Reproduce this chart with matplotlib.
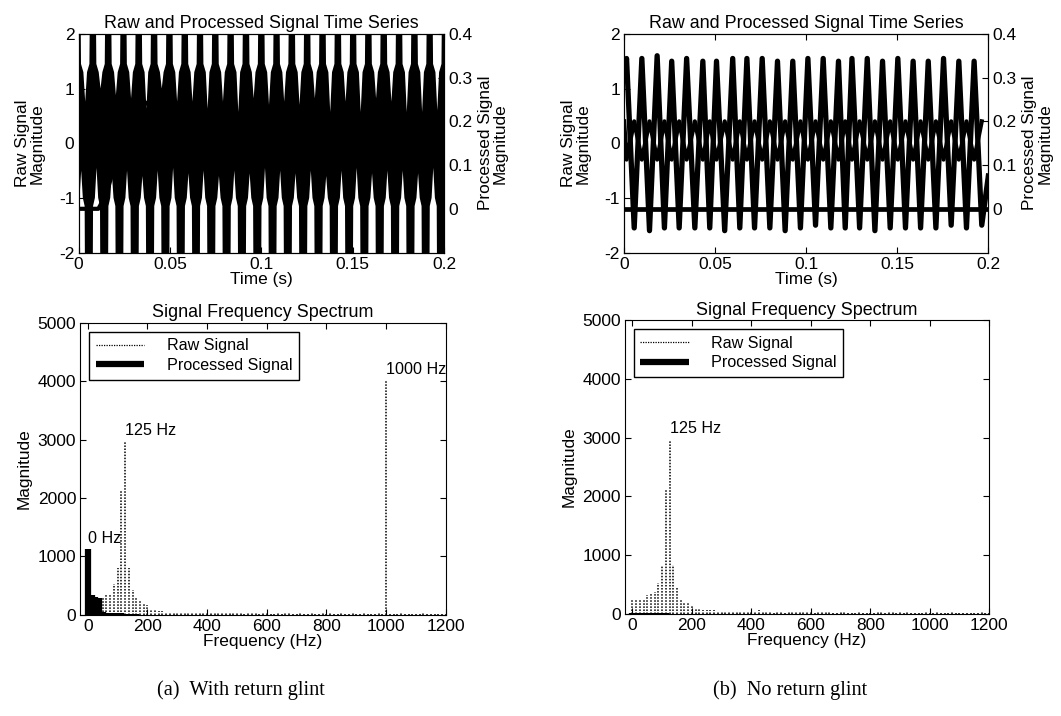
import numpy as np
import matplotlib
matplotlib.use("Agg")
import matplotlib.pyplot as plt
from matplotlib.lines import Line2D

plt.rcParams['font.family'] = ['Liberation Sans', 'DejaVu Sans']
plt.rcParams['font.size'] = 12.5
plt.rcParams['axes.unicode_minus'] = False

# ---- time series, no glint (b): raw zigzag vertices
peak_t = [0.0013, 0.0097, 0.0181, 0.0261, 0.0343, 0.0432, 0.0507, 0.0596, 0.0674, 0.0758,
          0.0842, 0.0926, 0.1009, 0.1093, 0.1177, 0.1251, 0.1335, 0.1419, 0.1503, 0.1587,
          0.1670, 0.1754, 0.1838, 0.1922]
peak_v = [1.55, 1.55, 1.6, 1.5, 1.55, 1.5, 1.5, 1.55, 1.55, 1.55, 1.5, 1.5, 1.55, 1.55,
          1.5, 1.55, 1.55, 1.5, 1.55, 1.5, 1.5, 1.55, 1.5, 1.5]
trough_t = [0.0055, 0.0139, 0.0221, 0.0302, 0.0388, 0.0470, 0.0552, 0.0635, 0.0716, 0.0800,
            0.0884, 0.0968, 0.1051, 0.1135, 0.1214, 0.1293, 0.1377, 0.1461, 0.1545, 0.1628,
            0.1712, 0.1796, 0.1880, 0.1964]
trough_v = [-1.55, -1.6, -1.55, -1.55, -1.55, -1.55, -1.6, -1.55, -1.55, -1.55, -1.6, -1.55,
            -1.5, -1.55, -1.55, -1.55, -1.6, -1.55, -1.55, -1.55, -1.55, -1.5, -1.55, -1.5]
inner_at_peak = -0.3     # inner crossing band levels
inner_at_trough = 0.4
clean_start = 1.2
clean_end = -0.6
proc_clean_t = [0.0, 0.2]
proc_clean_v = [0.0, 0.0]

# ---- time series, with glint (a): envelope of the dense raw signal
top_gap_t = [0.0036, 0.0120, 0.0204, 0.0287, 0.0371, 0.0455, 0.0539, 0.0623, 0.0706, 0.0790,
             0.0874, 0.0958, 0.1042, 0.1125, 0.1209, 0.1293, 0.1377, 0.1461, 0.1544, 0.1628,
             0.1712, 0.1796, 0.1880, 0.1963]
top_gap_tip = [0.76, 1.0, 0.88, 0.82, 0.63, 1.0, 0.76, 0.76, 0.63, 0.76, 0.57, 0.82, 0.7, 0.76,
               0.7, 0.82, 0.57, 0.76, 0.57, 0.82, 0.76, 0.57, 0.57, 0.6]
bot_gap_t = [0.0014, 0.0098, 0.0182, 0.0265, 0.0349, 0.0433, 0.0517, 0.0601, 0.0684, 0.0768,
             0.0852, 0.0936, 0.1020, 0.1103, 0.1187, 0.1271, 0.1355, 0.1439, 0.1522, 0.1606,
             0.1690, 0.1774, 0.1858, 0.1941]
bot_gap_tip = [-0.5, -0.45, -0.55, -0.5, -0.6, -0.5, -0.45, -0.55, -0.5, -0.6, -0.5, -0.55,
               -0.45, -0.5, -0.55, -0.5, -0.6, -0.5, -0.45, -0.55, -0.5, -0.5, -0.55, -0.45]
# gap outline: time offsets and levels (tip level is per gap)
top_gap_dt = [-0.0026, -0.0023, -0.0010, 0.0, 0.0010, 0.0023, 0.0026]
top_gap_lv = [2.6, 1.45, 1.3, None, 1.3, 1.45, 2.6]
bot_gap_dt = [-0.0021, -0.0019, -0.0009, 0.0, 0.0009, 0.0019, 0.0021]
bot_gap_lv = [-2.6, -1.15, -1.0, None, -1.0, -1.15, -2.6]
proc_glint_t = [0.0, 0.0108, 0.012, 0.0166, 0.0194, 0.025, 0.0315, 0.034, 0.045, 0.06, 0.1, 0.15, 0.2]
proc_glint_v = [0.0, 0.0, 0.009, 0.055, 0.094, 0.17, 0.2575, 0.25, 0.22, 0.2, 0.19, 0.2, 0.19]

# ---- spectra (bins of 12.5 Hz)
freq_step = 12.5
raw_glint = [1050, 300, 290, 280, 310, 345, 350, 520, 800, 2120,
             2960, 800, 430, 280, 225, 195, 160, 100, 78, 60,
             55, 45, 40, 45, 35, 30, 40, 45, 35, 30,
             45, 40, 35, 50, 40, 30, 25, 20, 30, 25,
             35, 20, 15, 25, 30, 20, 15, 20, 25, 15,
             10, 20, 15, 25, 20, 10, 15, 20, 15, 10,
             20, 15, 10, 25, 15, 20, 10, 15, 25, 10,
             15, 20, 10, 15, 20, 10, 15, 10, 20, 15,
             4020, 15, 10, 15, 20, 10, 15, 10, 15, 10,
             20, 15, 10, 15, 10, 15, 10]
raw_clean = [255, 240, 255, 255, 325, 350, 370, 530, 815, 2110,
             2950, 825, 430, 255, 205, 175, 145, 100, 75, 70,
             65, 55, 60, 40, 30, 35, 30, 25, 45, 40,
             35, 45, 50, 40, 55, 45, 25, 20, 15, 40,
             20, 15, 25, 30, 35, 25, 40, 20, 30, 15,
             35, 25, 20, 30, 15, 10, 20, 25, 15, 10,
             15, 20, 10, 15, 10, 15, 20, 25, 15, 20,
             30, 15, 25, 15, 20, 10, 15, 10, 15, 20,
             15, 10, 20, 15, 10, 15, 20, 15, 10, 15,
             10, 15, 10, 15, 20, 10, 15]
proc_glint = [1120, 330, 300, 280, 45, 35, 30, 25, 20, 20, 15, 15, 10, 10]
proc_clean = [10, 15, 15, 15, 15, 15, 15, 10, 10, 10]
peak_labels_glint = [(0, 1180, "0 Hz"), (125, 3020, "125 Hz"), (1000, 4080, "1000 Hz")]
peak_labels_clean = [(125, 3020, "125 Hz")]

captions = ["(a)  With return glint", "(b)  No return glint"]

TITLE_FS = 12.9
LABEL_FS = 12.4


def gap_outline(centres, tips, dts, levels, edge):
    ts, vs = [0.0], [edge]
    for c, tip in zip(centres, tips):
        for dt, lv in zip(dts, levels):
            ts.append(c + dt)
            vs.append(tip if lv is None else lv)
    ts.append(0.2)
    vs.append(edge)
    return np.array(ts), np.array(vs)


def style_time_axes(ax, ax2):
    ax.set_xlim(0, 0.2)
    ax.set_ylim(-2, 2)
    ax.set_yticks([-2, -1, 0, 1, 2])
    ax.set_xticks([0, 0.05, 0.1, 0.15, 0.2])
    ax.set_xticklabels(["0", "0.05", "0.1", "0.15", "0.2"])
    ax.tick_params(direction='in', length=4, top=True, pad=3)
    ax.set_title("Raw and Processed Signal Time Series", pad=4, fontsize=TITLE_FS)
    ax.set_xlabel("Time (s)", labelpad=0, fontsize=LABEL_FS)
    ax.set_ylabel("Raw Signal\nMagnitude", linespacing=1.0, labelpad=10, fontsize=LABEL_FS)
    ax2.set_ylim(-0.1, 0.4)
    ax2.set_yticks([0, 0.1, 0.2, 0.3, 0.4])
    ax2.set_yticklabels(["0", "0.1", "0.2", "0.3", "0.4"])
    ax2.tick_params(direction='in', length=4, pad=3)
    ax2.set_ylabel("Processed Signal\nMagnitude", linespacing=1.0, labelpad=4,
                   fontsize=LABEL_FS)


def style_spec_axes(ax):
    ax.set_xlim(-25, 1200)
    ax.set_ylim(0, 5000)
    ax.set_xticks([0, 200, 400, 600, 800, 1000, 1200])
    ax.set_yticks([0, 1000, 2000, 3000, 4000, 5000])
    ax.tick_params(direction='in', length=4, top=True, right=True, pad=3)
    ax.set_title("Signal Frequency Spectrum", pad=4, fontsize=TITLE_FS)
    ax.set_xlabel("Frequency (Hz)", labelpad=0, fontsize=LABEL_FS)
    ax.set_ylabel("Magnitude", labelpad=4, fontsize=LABEL_FS)
    handles = [Line2D([], [], color='k', lw=0.9, ls=(0, (1, 1))),
               Line2D([], [], color='k', lw=4.5, solid_capstyle='butt')]
    leg = ax.legend(handles, ["Raw Signal", "Processed Signal"], loc='upper left',
                    fancybox=False, edgecolor='k', framealpha=1, handlelength=3.0,
                    handletextpad=1.4, borderaxespad=0.55, borderpad=0.4,
                    labelspacing=0.3, fontsize=11.6)
    leg.get_frame().set_linewidth(1.0)


def plot_spectrum(ax, raw, proc, labels):
    f_raw = np.arange(len(raw)) * freq_step
    f_proc = np.arange(len(proc)) * freq_step
    ax.vlines(f_raw, 0, raw, colors='k', linestyles=(0, (1, 1)), lw=1.1)
    ax.vlines(f_proc, 0, proc, colors='k', lw=4.5, capstyle='butt')
    for x, y, s in labels:
        ax.text(x, y, s, ha='left', va='bottom', fontsize=11.6)
    style_spec_axes(ax)


fig = plt.figure(figsize=(10.61, 7.16), dpi=100)

# (a) top: with glint
ax_a = fig.add_axes([0.0741, 0.6473, 0.3444, 0.3054])
t_up, v_up = gap_outline(top_gap_t, top_gap_tip, top_gap_dt, top_gap_lv, 2.6)
t_lo, v_lo = gap_outline(bot_gap_t, bot_gap_tip, bot_gap_dt, bot_gap_lv, -2.6)
ax_a.fill(np.r_[t_up, t_lo[::-1]], np.r_[v_up, v_lo[::-1]], color='k', lw=0)
ax_a2 = ax_a.twinx()
ax_a2.plot(proc_glint_t, proc_glint_v, color='k', lw=3.0)
style_time_axes(ax_a, ax_a2)

# (b) top: no glint
ax_b = fig.add_axes([0.5883, 0.6473, 0.3432, 0.3054])
main_t = [0.0]
main_v = [clean_start]
inner_t = [0.0]
inner_v = [inner_at_trough]
for pt, pv, tt, tv in zip(peak_t, peak_v, trough_t, trough_v):
    main_t += [pt, tt]
    main_v += [pv, tv]
    inner_t += [pt, tt]
    inner_v += [inner_at_peak, inner_at_trough]
main_t.append(0.2)
main_v.append(clean_end)
ax_b.plot(main_t, main_v, color='k', lw=3.8)
ax_b.plot(inner_t, inner_v, color='k', lw=3.0)
ax_b2 = ax_b.twinx()
ax_b2.plot(proc_clean_t, proc_clean_v, color='k', lw=3.4)
style_time_axes(ax_b, ax_b2)

# bottom spectra
ax_c = fig.add_axes([0.0757, 0.1416, 0.3445, 0.4073])
plot_spectrum(ax_c, raw_glint, proc_glint, peak_labels_glint)
ax_d = fig.add_axes([0.5891, 0.1430, 0.3432, 0.4097])
plot_spectrum(ax_d, raw_clean, proc_clean, peak_labels_clean)

for x, s in zip([0.227, 0.745], captions):
    fig.text(x, 1 - 690 / 716, s, ha='center', va='center',
             family=['Liberation Serif', 'DejaVu Serif'], fontsize=14.6)

fig.savefig("out.png", dpi=100)
